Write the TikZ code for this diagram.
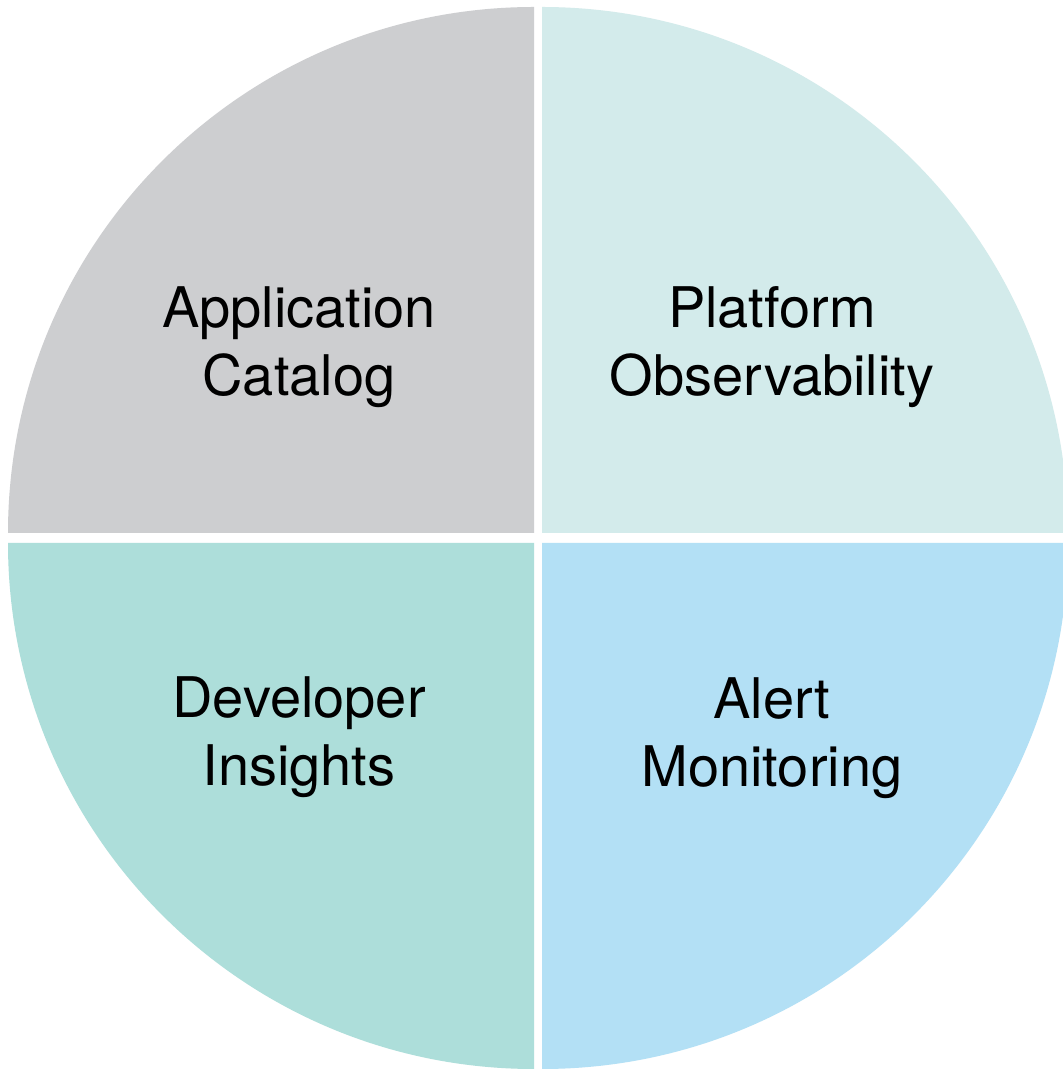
\documentclass[tikz,border=0pt]{standalone}
\usepackage{fontspec}
\setmainfont{TeX Gyre Heros}
\definecolor{qgray}{HTML}{CDCED0}
\definecolor{qmint}{HTML}{D3EBEB}
\definecolor{qteal}{HTML}{ADDEDA}
\definecolor{qblue}{HTML}{B3E0F5}
\tikzset{
  qlabel/.style={align=center, inner sep=0pt, text=black,
    font=\fontsize{56}{68}\selectfont}
}
\begin{document}
\begin{tikzpicture}[x=1pt,y=1pt]
\useasboundingbox (0,0) rectangle (1063,1069);
\clip (0,0) rectangle (1063,1069);
\fill[white] (0,0) rectangle (1063,1069);
\fill[qgray] (534,536) -- ++(0,526) arc[start angle=90,end angle=180,radius=526] -- cycle;
\fill[qmint] (542,536) -- ++(526,0) arc[start angle=0,end angle=90,radius=526] -- cycle;
\fill[qteal] (534,526) -- ++(-526,0) arc[start angle=180,end angle=270,radius=526] -- cycle;
\fill[qblue] (542,526) -- ++(0,-526) arc[start angle=270,end angle=360,radius=526] -- cycle;
\node[qlabel] (app) at (299,722) {Application\\Catalog};
\node[qlabel] (plat) at (772,722) {Platform\\Observability};
\node[qlabel] (dev) at (299,332) {Developer\\Insights};
\node[qlabel] (alert) at (772,331) {Alert\\Monitoring};
\end{tikzpicture}
\end{document}
